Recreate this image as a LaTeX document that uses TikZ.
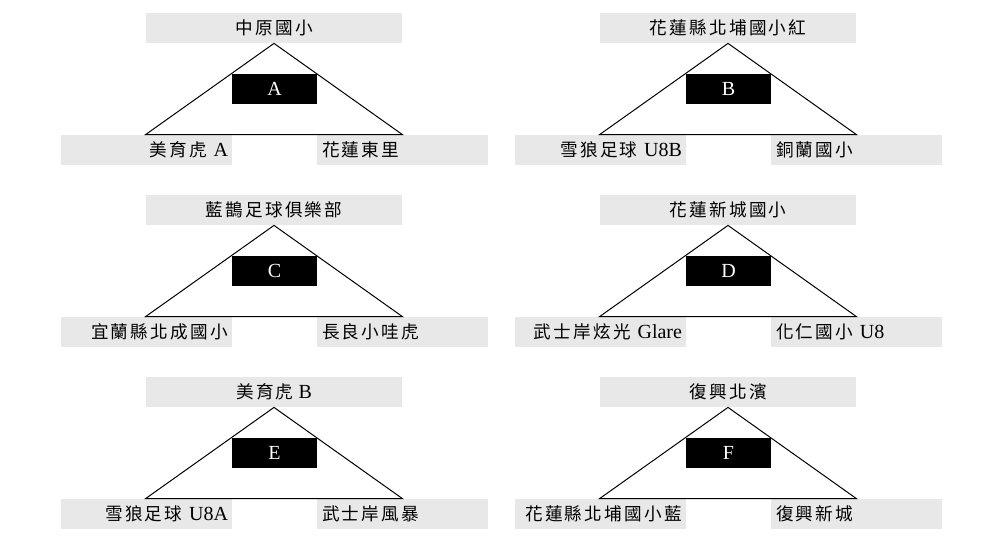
\documentclass[tikz,border=0pt]{standalone}
\usepackage{fontspec}
\setmainfont{Liberation Serif}
\newfontfamily\cjk[Scale=0.88,LetterSpace=13]{Noto Sans CJK TC}
\definecolor{labelgray}{RGB}{232,232,232}
\begin{document}
\begin{tikzpicture}[x=0.5pt,y=-0.5pt]
		\tikzstyle{teambox} = [rectangle,fill=labelgray,minimum height=15pt,inner ysep=0pt,font=\fontsize{10}{12}\selectfont]
		\tikzstyle{topbox} = [teambox,minimum width=128pt]
		\tikzstyle{leftbox} = [teambox,inner xsep=2pt,text width=81.5pt,align=right]
		\tikzstyle{rightbox} = [teambox,inner xsep=2.5pt,text width=80.5pt,align=left]
		\tikzstyle{gamebox} = [rectangle,fill=black,text=white,minimum width=42.5pt,minimum height=15pt,font=\fontsize{10}{12}\selectfont]
		\tikzstyle{bracket} = [draw=black,line width=0.5pt]
		\useasboundingbox (0,0) rectangle (1000,560);
		% row 1
		\node[topbox] (topA) at (274,28) {\cjk 中原國小};
		\node[leftbox] (leftA) at (146.5,150) {{\cjk 美育虎} A};
		\node[rightbox] (rightA) at (402.5,150) {\cjk 花蓮東里};
		\draw[bracket] (topA.south) -- (topA.south west |- leftA.north) -- (topA.south east |- rightA.north) -- cycle;
		\node[gamebox] (gameA) at (274.5,89) {A};
		\node[topbox] (topB) at (728,28) {\cjk 花蓮縣北埔國小紅};
		\node[leftbox] (leftB) at (600.5,150) {{\cjk 雪狼足球} U8B};
		\node[rightbox] (rightB) at (856.5,150) {\cjk 銅蘭國小};
		\draw[bracket] (topB.south) -- (topB.south west |- leftB.north) -- (topB.south east |- rightB.north) -- cycle;
		\node[gamebox] (gameB) at (728.5,89) {B};
		% row 2
		\node[topbox] (topC) at (274,210) {\cjk 藍鵲足球俱樂部};
		\node[leftbox] (leftC) at (146.5,332) {\cjk 宜蘭縣北成國小};
		\node[rightbox] (rightC) at (402.5,332) {\cjk 長良小哇虎};
		\draw[bracket] (topC.south) -- (topC.south west |- leftC.north) -- (topC.south east |- rightC.north) -- cycle;
		\node[gamebox] (gameC) at (274.5,271) {C};
		\node[topbox] (topD) at (728,210) {\cjk 花蓮新城國小};
		\node[leftbox] (leftD) at (600.5,332) {{\cjk 武士岸炫光} Glare};
		\node[rightbox] (rightD) at (856.5,332) {{\cjk 化仁國小} U8};
		\draw[bracket] (topD.south) -- (topD.south west |- leftD.north) -- (topD.south east |- rightD.north) -- cycle;
		\node[gamebox] (gameD) at (728.5,271) {D};
		% row 3
		\node[topbox] (topE) at (274,392) {{\cjk 美育虎} B};
		\node[leftbox] (leftE) at (146.5,514) {{\cjk 雪狼足球} U8A};
		\node[rightbox] (rightE) at (402.5,514) {\cjk 武士岸風暴};
		\draw[bracket] (topE.south) -- (topE.south west |- leftE.north) -- (topE.south east |- rightE.north) -- cycle;
		\node[gamebox] (gameE) at (274.5,453) {E};
		\node[topbox] (topF) at (728,392) {\cjk 復興北濱};
		\node[leftbox] (leftF) at (600.5,514) {\cjk 花蓮縣北埔國小藍};
		\node[rightbox] (rightF) at (856.5,514) {\cjk 復興新城};
		\draw[bracket] (topF.south) -- (topF.south west |- leftF.north) -- (topF.south east |- rightF.north) -- cycle;
		\node[gamebox] (gameF) at (728.5,453) {F};
	\end{tikzpicture}
\end{document}
